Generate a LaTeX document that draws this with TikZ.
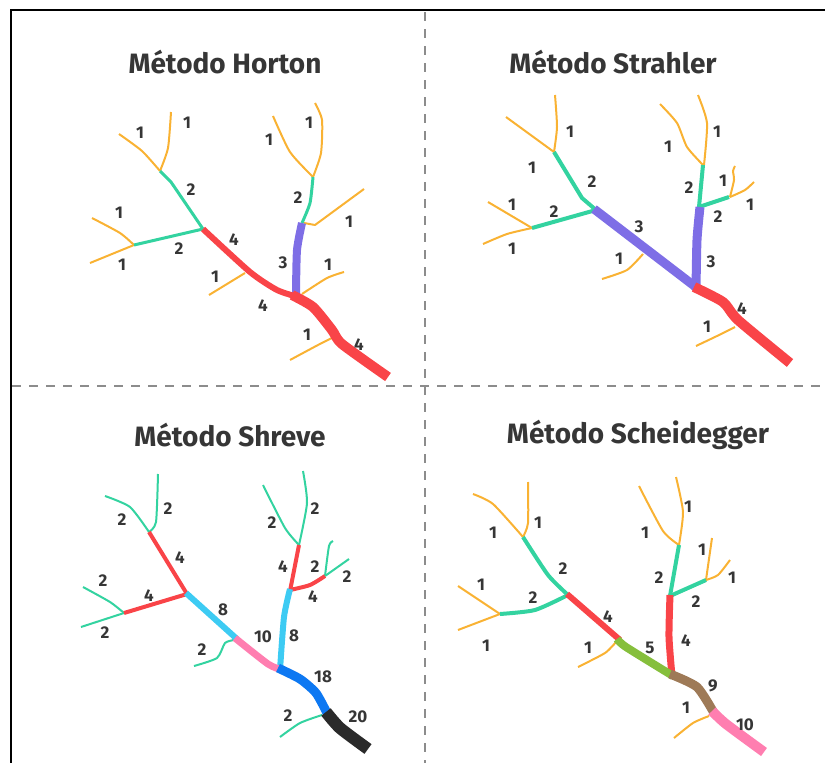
\documentclass[tikz,border=0pt]{standalone}
\usepackage{fontspec}
\setmainfont{Fira Sans}
\definecolor{orng}{HTML}{F9B233}
\definecolor{teal2}{HTML}{33D3A0}
\definecolor{redr}{HTML}{F94448}
\definecolor{purp}{HTML}{7E6EE6}
\definecolor{cyan2}{HTML}{3DCBF3}
\definecolor{pink2}{HTML}{FF7EB0}
\definecolor{blue2}{HTML}{0D78F2}
\definecolor{blk}{HTML}{2A2A2A}
\definecolor{lime2}{HTML}{86BF3C}
\definecolor{brown2}{HTML}{9E7A57}
\definecolor{txt}{HTML}{363636}
\definecolor{dashgray}{HTML}{8C8C8C}
\begin{document}
\begin{tikzpicture}[x=1pt,y=-1pt,
  riv/.style={line join=round, line cap=butt},
  orl/.style={riv, draw=orng, line width=2pt},
  tl/.style={riv, draw=teal2, line width=#1},
  tl/.default=3pt,
  rl/.style={riv, draw=redr, line width=#1},
  lab/.style={text=txt, font=\fontsize{17}{17}\selectfont\bfseries, inner sep=0pt},
  ttl/.style={text=txt, font=\fontsize{28}{28}\selectfont\bfseries, inner sep=0pt},
  sep/.style={draw=dashgray, line width=1.5pt, dash pattern=on 9pt off 8pt}]
\useasboundingbox (0,0) rectangle (825,763);
% frame and separators
\coordinate (fa) at (11,763); \coordinate (fb) at (11,10); \coordinate (fc) at (825,10);
\draw[black, line width=2pt] (fa) -- (fb) -- (fc);
\coordinate (va) at (425,12); \coordinate (vb) at (425,763);
\coordinate (ha) at (12,386); \coordinate (hb) at (825,386);
\draw[sep] (va) -- (vb);
\draw[sep] (ha) -- (hb);
% titles
\node[ttl] (t1) at (225,62) {Método Horton};
\node[ttl] (t2) at (613,62) {Método Strahler};
\node[ttl] (t3) at (230,435) {Método Shreve};
\node[ttl] (t4) at (638,435) {Método Scheidegger};

%%%%%%%% Horton
\draw[orl] plot[smooth, tension=0.4] coordinates {(119,134) (142,151) (160,171)};
\draw[orl] plot[smooth, tension=0.4] coordinates {(171,112) (168,148) (160,171)};
\draw[orl] plot[smooth, tension=0.4] coordinates {(92,218) (120,233) (134,245)};
\draw[orl] plot[smooth, tension=0.4] coordinates {(90,263) (134,245)};
\draw[orl] plot[smooth, tension=0.4] coordinates {(273,116) (290,152) (313,177)};
\draw[orl] plot[smooth, tension=0.4] coordinates {(315,103) (322,120) (321,153) (313,177)};
\draw[orl] plot coordinates {(304,223) (315,225) (364,189)};
\draw[orl] plot coordinates {(209,295) (245,273)};
\draw[orl] plot[smooth, tension=0.4] coordinates {(302,294) (327,278) (344,272)};
\draw[orl] plot[smooth, tension=0.4] coordinates {(290,360) (318,345) (332,338)};
\draw[tl] plot coordinates {(160,171) (171,182) (203,229)};
\draw[tl] plot coordinates {(134,245) (203,229)};
\draw[tl] plot[smooth, tension=0.4] coordinates {(313,177) (310,203) (302,223)};
\draw[riv, draw=purp, line width=8pt] plot[smooth, tension=0.4] coordinates {(302,223) (297,250) (296,294)};
\draw[rl=6pt] plot[smooth, tension=0.4] coordinates {(203,229) (250,272) (277,290) (298,297)};
\draw[rl=10pt] plot[smooth, tension=0.4] coordinates {(292,295) (313,307) (332,330) (342,344) (388,377)};
\node[lab] (h1) at (140,133) {1};
\node[lab] (h2) at (187,123) {1};
\node[lab] (h3) at (191,190) {2};
\node[lab] (h4) at (119,213) {1};
\node[lab] (h5) at (179,249) {2};
\node[lab] (h6) at (122,265) {1};
\node[lab] (h7) at (234,240) {4};
\node[lab] (h8) at (215,277) {1};
\node[lab] (h9) at (269,140) {1};
\node[lab] (h10) at (309,123) {1};
\node[lab] (h11) at (298,198) {2};
\node[lab] (h12) at (349,222) {1};
\node[lab] (h13) at (283,263) {3};
\node[lab] (h14) at (328,265) {1};
\node[lab] (h15) at (263,306) {4};
\node[lab] (h16) at (307,335) {1};
\node[lab] (h17) at (359,345) {4};

%%%%%%%% Strahler
\draw[orl] plot[smooth, tension=0.4] coordinates {(555,95) (557,127) (554,152)};
\draw[orl] plot coordinates {(506,117) (554,152)};
\draw[orl] plot coordinates {(488,202) (532,228)};
\draw[orl] plot[smooth, tension=0.4] coordinates {(483,244) (507,234) (532,228)};
\draw[orl] plot[smooth, tension=0.4] coordinates {(602,279) (627,270) (643,254)};
\draw[orl] plot[smooth, tension=0.4] coordinates {(660,104) (677,123) (687,147) (703,165)};
\draw[orl] plot[smooth, tension=0.4] coordinates {(698,95) (707,123) (704,165)};
\draw[orl] plot[smooth, tension=0.4] coordinates {(735,166) (733,171) (734,180) (730,197)};
\draw[orl] plot[smooth, tension=0.4] coordinates {(754,182) (745,190) (730,197)};
\draw[orl] plot[smooth, tension=0.4] coordinates {(696,346) (717,336) (735,327)};
\draw[tl=4pt] plot coordinates {(554,152) (582,198) (596,210)};
\draw[tl=4pt] plot coordinates {(532,228) (596,210)};
\draw[tl=4pt] plot coordinates {(703,165) (699,207)};
\draw[tl=4pt] plot coordinates {(699,207) (729,197)};
\draw[riv, draw=purp, line width=9pt] plot coordinates {(594,209) (697,288)};
\draw[riv, draw=purp, line width=9pt] plot[smooth, tension=0.4] coordinates {(700,207) (697,240) (696,290)};
\draw[rl=10pt] plot[smooth, tension=0.4] coordinates {(694,287) (723,302) (738,320) (790,363)};
\node[lab] (s1) at (570,132) {1};
\node[lab] (s2) at (532,168) {1};
\node[lab] (s3) at (592,182) {2};
\node[lab] (s4) at (512,205) {1};
\node[lab] (s5) at (554,212) {2};
\node[lab] (s6) at (512,249) {1};
\node[lab] (s7) at (619,259) {1};
\node[lab] (s8) at (639,227) {3};
\node[lab] (s9) at (717,132) {1};
\node[lab] (s10) at (668,147) {1};
\node[lab] (s11) at (689,188) {2};
\node[lab] (s12) at (723,181) {1};
\node[lab] (s13) at (750,205) {1};
\node[lab] (s14) at (718,217) {2};
\node[lab] (s15) at (711,262) {3};
\node[lab] (s16) at (742,309) {4};
\node[lab] (s17) at (707,327) {1};

%%%%%%%% Shreve
\draw[tl=2pt] plot[smooth, tension=0.4] coordinates {(105,496) (130,507) (149,532)};
\draw[tl=2pt] plot[smooth, tension=0.4] coordinates {(158,474) (156,522) (149,532)};
\draw[tl=2pt] plot[smooth, tension=0.4] coordinates {(83,587) (110,602) (124,613)};
\draw[tl=2pt] plot coordinates {(81,627) (124,613)};
\draw[tl=2pt] plot[smooth, tension=0.4] coordinates {(194,666) (217,658) (225,643) (234,640)};
\draw[tl=2pt] plot[smooth, tension=0.4] coordinates {(263,485) (285,528) (299,545)};
\draw[tl=2pt] plot[smooth, tension=0.4] coordinates {(303,471) (307,503) (299,545)};
\draw[tl=2pt] plot[smooth, tension=0.4] coordinates {(333,541) (329,546) (325,576)};
\draw[tl=2pt] plot coordinates {(349,559) (325,576)};
\draw[tl=2pt] plot[smooth, tension=0.4] coordinates {(280,737) (300,723) (322,715)};
\draw[rl=4pt] plot coordinates {(149,532) (187,594)};
\draw[rl=4pt] plot coordinates {(124,613) (187,594)};
\draw[rl=4pt] plot coordinates {(299,545) (290,591)};
\draw[rl=4pt] plot[smooth, tension=0.4] coordinates {(290,590) (310,585) (325,576)};
\draw[riv, draw=cyan2, line width=6pt] plot coordinates {(186,593) (237,639)};
\draw[riv, draw=cyan2, line width=6pt] plot[smooth, tension=0.4] coordinates {(290,589) (284,617) (280,670)};
\draw[riv, draw=pink2, line width=7pt] plot[smooth, tension=0.4] coordinates {(235,638) (268,664) (282,670)};
\draw[riv, draw=blue2, line width=9pt] plot[smooth, tension=0.4] coordinates {(278,668) (300,679) (316,693) (327,713)};
\draw[riv, draw=blk, line width=12pt] plot[smooth, tension=0.4] coordinates {(326,712) (340,728) (368,749)};
\node[lab] (r1) at (122,520) {2};
\node[lab] (r2) at (168,509) {2};
\node[lab] (r3) at (180,558) {4};
\node[lab] (r4) at (103,581) {2};
\node[lab] (r5) at (149,596) {4};
\node[lab] (r6) at (105,633) {2};
\node[lab] (r7) at (223,610) {8};
\node[lab] (r8) at (202,650) {2};
\node[lab] (r9) at (263,637) {10};
\node[lab] (r10) at (272,523) {2};
\node[lab] (r11) at (315,509) {2};
\node[lab] (r12) at (283,567) {4};
\node[lab] (r13) at (315,567) {2};
\node[lab] (r14) at (347,577) {2};
\node[lab] (r15) at (313,597) {4};
\node[lab] (r16) at (294,636) {8};
\node[lab] (r17) at (323,677) {18};
\node[lab] (r18) at (288,716) {2};
\node[lab] (r19) at (358,717) {20};

%%%%%%%% Scheidegger
\draw[orl] plot[smooth, tension=0.4] coordinates {(473,494) (493,504) (523,537)};
\draw[orl] plot[smooth, tension=0.4] coordinates {(528,482) (528,523) (523,537)};
\draw[orl] plot coordinates {(458,586) (500,614)};
\draw[orl] plot coordinates {(458,630) (500,614)};
\draw[orl] plot[smooth, tension=0.4] coordinates {(578,667) (605,653) (616,642)};
\draw[orl] plot[smooth, tension=0.4] coordinates {(639,486) (663,531) (679,545)};
\draw[orl] plot[smooth, tension=0.4] coordinates {(676,477) (683,512) (679,545)};
\draw[orl] plot coordinates {(712,538) (706,580)};
\draw[orl] plot[smooth, tension=0.4] coordinates {(730,560) (718,575) (706,580)};
\draw[orl] plot[smooth, tension=0.4] coordinates {(674,738) (693,723) (709,716)};
\draw[tl=4pt] plot[smooth, tension=0.4] coordinates {(523,537) (548,575) (568,595)};
\draw[tl=4pt] plot[smooth, tension=0.4] coordinates {(500,614) (535,610) (568,595)};
\draw[tl=4pt] plot coordinates {(679,545) (670,596)};
\draw[tl=4pt] plot coordinates {(670,596) (706,580)};
\draw[rl=6pt] plot coordinates {(567,594) (620,640)};
\draw[rl=7pt] plot[smooth, tension=0.4] coordinates {(670,595) (669,637) (672,676)};
\draw[riv, draw=lime2, line width=8pt] plot[smooth, tension=0.4] coordinates {(617,639) (626,647) (673,676)};
\draw[riv, draw=brown2, line width=9pt] plot[smooth, tension=0.4] coordinates {(670,674) (697,687) (714,713)};
\draw[riv, draw=pink2, line width=10pt] plot[smooth, tension=0.4] coordinates {(712,711) (726,724) (764,752)};
\node[lab] (c1) at (493,533) {1};
\node[lab] (c2) at (538,523) {1};
\node[lab] (c3) at (563,569) {2};
\node[lab] (c4) at (481,585) {1};
\node[lab] (c5) at (533,598) {2};
\node[lab] (c6) at (486,646) {1};
\node[lab] (c7) at (608,617) {4};
\node[lab] (c8) at (588,648) {1};
\node[lab] (c9) at (650,648) {5};
\node[lab] (c10) at (688,507) {1};
\node[lab] (c11) at (645,533) {1};
\node[lab] (c12) at (702,550) {1};
\node[lab] (c13) at (659,578) {2};
\node[lab] (c14) at (732,578) {1};
\node[lab] (c15) at (696,602) {2};
\node[lab] (c16) at (686,641) {4};
\node[lab] (c17) at (713,686) {9};
\node[lab] (c18) at (686,708) {1};
\node[lab] (c19) at (745,725) {10};
\end{tikzpicture}
\end{document}
